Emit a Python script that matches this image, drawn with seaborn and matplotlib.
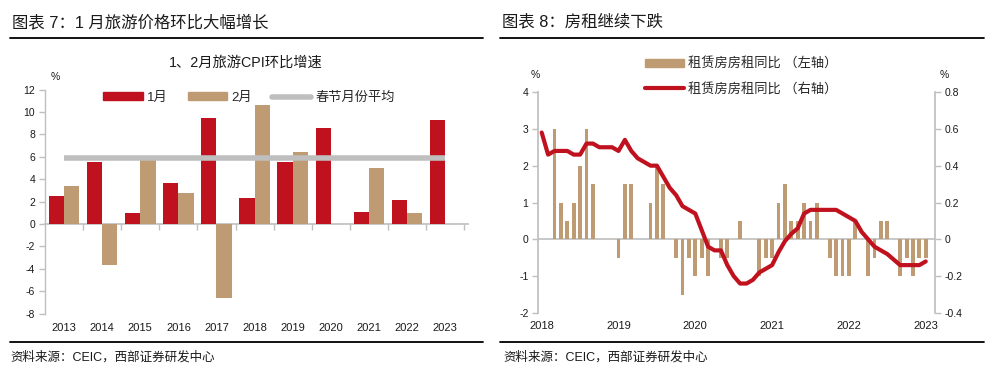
import numpy as np
import pandas as pd
import matplotlib
matplotlib.use("Agg")
import matplotlib.pyplot as plt
from matplotlib.patches import Patch
from matplotlib.lines import Line2D
import seaborn as sns

# ---------------- data ----------------
years = ["2013", "2014", "2015", "2016", "2017", "2018", "2019", "2020", "2021", "2022", "2023"]
cpi_jan = [2.5, 5.5, 1.0, 3.7, 9.5, 2.3, 5.5, 8.6, 1.1, 2.1, 9.3]
cpi_feb = [3.4, -3.7, 6.0, 2.8, -6.6, 10.6, 6.4, None, 5.0, 1.0, None]
spring_avg = 5.9

months = pd.date_range("2018-01-01", "2023-01-01", freq="MS").strftime("%Y-%m").tolist()
rent_bar = [0, 0, 3.0, 1.0, 0.5, 1.0, 2.0, 3.0, 1.5, 0, 0, 0, -0.5, 1.5, 1.5, 0, 0, 1.0, 2.0, 1.5,
            0, -0.5, -1.5, -0.5, -1.0, -0.5, -1.0, 0, -0.5, -0.5, 0, 0.5, 0, 0, -1.0, -0.5, -0.5, 1.0, 1.5, 0.5,
            0.5, 1.0, 0.5, 1.0, 0, -0.5, -1.0, -1.0, -1.0, 0.5, 0, -1.0, -0.5, 0.5, 0.5, 0, -1.0, -0.5, -1.0, -0.5,
            -0.5]
rent_line = [0.58, 0.46, 0.48, 0.48, 0.48, 0.46, 0.46, 0.52, 0.52, 0.50, 0.50, 0.50, 0.48, 0.54, 0.48, 0.44,
             0.42, 0.40, 0.40, 0.34, 0.28, 0.24, 0.18, 0.16, 0.14, 0.05, -0.04, -0.06, -0.06, -0.14, -0.20, -0.24,
             -0.24, -0.22, -0.18, -0.16, -0.14, -0.07, -0.01, 0.03, 0.06, 0.14, 0.16, 0.16, 0.16, 0.16, 0.16, 0.14,
             0.12, 0.10, 0.04, 0.00, -0.04, -0.06, -0.08, -0.11, -0.14, -0.14, -0.14, -0.14, -0.12]
year_ticks = ["2018", "2019", "2020", "2021", "2022", "2023"]

# ---------------- style ----------------
sns.set_theme(style="white")
plt.rcParams["font.family"] = ["Liberation Sans", "Noto Sans CJK SC", "DejaVu Sans"]
plt.rcParams["axes.unicode_minus"] = False

RED = "#C0121E"
TAN = "#BF9B74"
GREY = "#BFBFBF"
AXC = "#BFBFBF"
TXT = "#1a1a1a"

W, H = 986, 377
fig = plt.figure(figsize=(W / 100, H / 100), dpi=100)


def fx(px):
    return px / W


def fy(py):
    return 1 - py / H


def box(l, t, r, b):
    return [fx(l), fy(b), fx(r) - fx(l), fy(t) - fy(b)]


# headers and rules
fig.text(fx(12), fy(22), "图表 7：1 月旅游价格环比大幅增长", fontsize=11.8, va="center", ha="left", color=TXT)
fig.text(fx(502), fy(22), "图表 8：房租继续下跌", fontsize=11.8, va="center", ha="left", color=TXT)
for (x0, x1) in [(10, 483), (500, 984)]:
    fig.add_artist(Line2D([fx(x0), fx(x1)], [fy(38), fy(38)], color="black", lw=1.3))
    fig.add_artist(Line2D([fx(x0), fx(x1)], [fy(342), fy(342)], color="black", lw=1.3))
fig.text(fx(10), fy(357), "资料来源：CEIC，西部证券研发中心", fontsize=9, va="center", ha="left", color=TXT)
fig.text(fx(503), fy(357), "资料来源：CEIC，西部证券研发中心", fontsize=9, va="center", ha="left", color=TXT)

# ---------------- left chart ----------------
ax = fig.add_axes(box(45, 89.6, 468, 313.6))
df = pd.DataFrame({
    "year": years * 2,
    "value": cpi_jan + cpi_feb,
    "month": ["1月"] * len(years) + ["2月"] * len(years),
}).dropna()
sns.barplot(data=df, x="year", y="value", hue="month", order=years, hue_order=["1月", "2月"],
            palette={"1月": RED, "2月": TAN}, width=0.8, errorbar=None, ax=ax, legend=False,
            saturation=1, linewidth=0)
pos = np.arange(len(years))
ax.plot(pos, np.full(len(years), spring_avg), color=GREY, lw=4, solid_capstyle="butt", zorder=3)
ax.set_ylim(-8, 12)
ax.set_xlim(-0.5, 10.6)
ax.set_yticks(np.arange(-8, 13, 2))
ax.set_xlabel("")
ax.set_ylabel("")
for s in ["top", "right", "bottom"]:
    ax.spines[s].set_visible(False)
ax.spines["left"].set_color(AXC)
ax.spines["left"].set_linewidth(1)
ax.tick_params(axis="y", length=4, width=1, color=AXC, labelsize=7.5, pad=3, labelcolor=TXT, left=True)
ax.tick_params(axis="x", length=0, labelsize=8, pad=7, labelcolor=TXT)
sec = ax.secondary_xaxis((0 - (-8)) / 20)
sec.set_xticks(np.arange(0.5, 10.6, 1.0))
sec.set_xticklabels([])
sec.tick_params(axis="x", length=4, width=1, color=AXC, direction="out")
sec.spines["bottom"].set_color(AXC)
sec.spines["bottom"].set_linewidth(1.2)
ax.grid(False)
fig.text(fx(246), fy(63), "1、2月旅游CPI环比增速", fontsize=10.3, ha="center", va="center", color=TXT)
fig.text(fx(55), fy(77), "%", fontsize=7.5, ha="center", va="center", color=TXT)
handles = [Patch(color=RED), Patch(color=TAN), Line2D([0], [0], color=GREY, lw=4)]
fig.legend(handles, ["1月", "2月", "春节月份平均"], ncol=3, loc="center",
           bbox_to_anchor=(fx(249), fy(98)), frameon=False, fontsize=9.5,
           handlelength=3.0, handleheight=0.55, handletextpad=0.3, columnspacing=1.5)

# ---------------- right chart ----------------
axr = fig.add_axes(box(538.3, 92, 935, 313))
dfr = pd.DataFrame({"month": months, "bar": rent_bar, "line": rent_line})
sns.barplot(data=dfr, x="month", y="bar", color=TAN, width=0.62, errorbar=None, ax=axr,
            saturation=1, linewidth=0)
axr.axhline(0, color=AXC, lw=1.2, zorder=0)
axr.set_ylim(-2, 4)
axr.set_xlim(-0.53, 61.45)
axr.set_yticks(np.arange(-2, 5, 1))
axr.set_xticks([months.index(y + "-01") for y in year_ticks])
axr.set_xticklabels(year_ticks)
axr.set_xlabel("")
axr.set_ylabel("")
for s in ["top", "right", "bottom"]:
    axr.spines[s].set_visible(False)
axr.spines["left"].set_color(AXC)
axr.tick_params(axis="y", length=4, width=1, color=AXC, labelsize=7.5, pad=3, labelcolor=TXT, left=True)
axr.tick_params(axis="x", length=0, labelsize=8, pad=6, labelcolor=TXT)

ax2 = axr.twinx()
sns.lineplot(x=np.arange(len(months)), y=dfr["line"], color=RED, lw=3, ax=ax2)
ax2.set_ylim(-0.4, 0.8)
ax2.set_yticks(np.round(np.arange(-0.4, 0.81, 0.2), 1))
ax2.set_yticklabels(["-0.4", "-0.2", "0", "0.2", "0.4", "0.6", "0.8"])
ax2.set_ylabel("")
for s in ["top", "left", "bottom"]:
    ax2.spines[s].set_visible(False)
ax2.spines["right"].set_color(AXC)
ax2.tick_params(axis="y", length=4, width=1, color=AXC, labelsize=7.5, pad=3, labelcolor=TXT, right=True)
ax2.grid(False)
axr.grid(False)
fig.text(fx(535), fy(75), "%", fontsize=7.5, ha="center", va="center", color=TXT)
fig.text(fx(944), fy(75), "%", fontsize=7.5, ha="center", va="center", color=TXT)
handles_r = [Patch(color=TAN), Line2D([0], [0], color=RED, lw=3)]
fig.legend(handles_r, ["租赁房房租同比 （左轴）", "租赁房房租同比 （右轴）"], ncol=1, loc="center",
           bbox_to_anchor=(fx(741), fy(76.5)), frameon=False, fontsize=9.5,
           handlelength=3.0, handleheight=0.55, handletextpad=0.3, labelspacing=0.95)

fig.savefig("out.png", dpi=100)
